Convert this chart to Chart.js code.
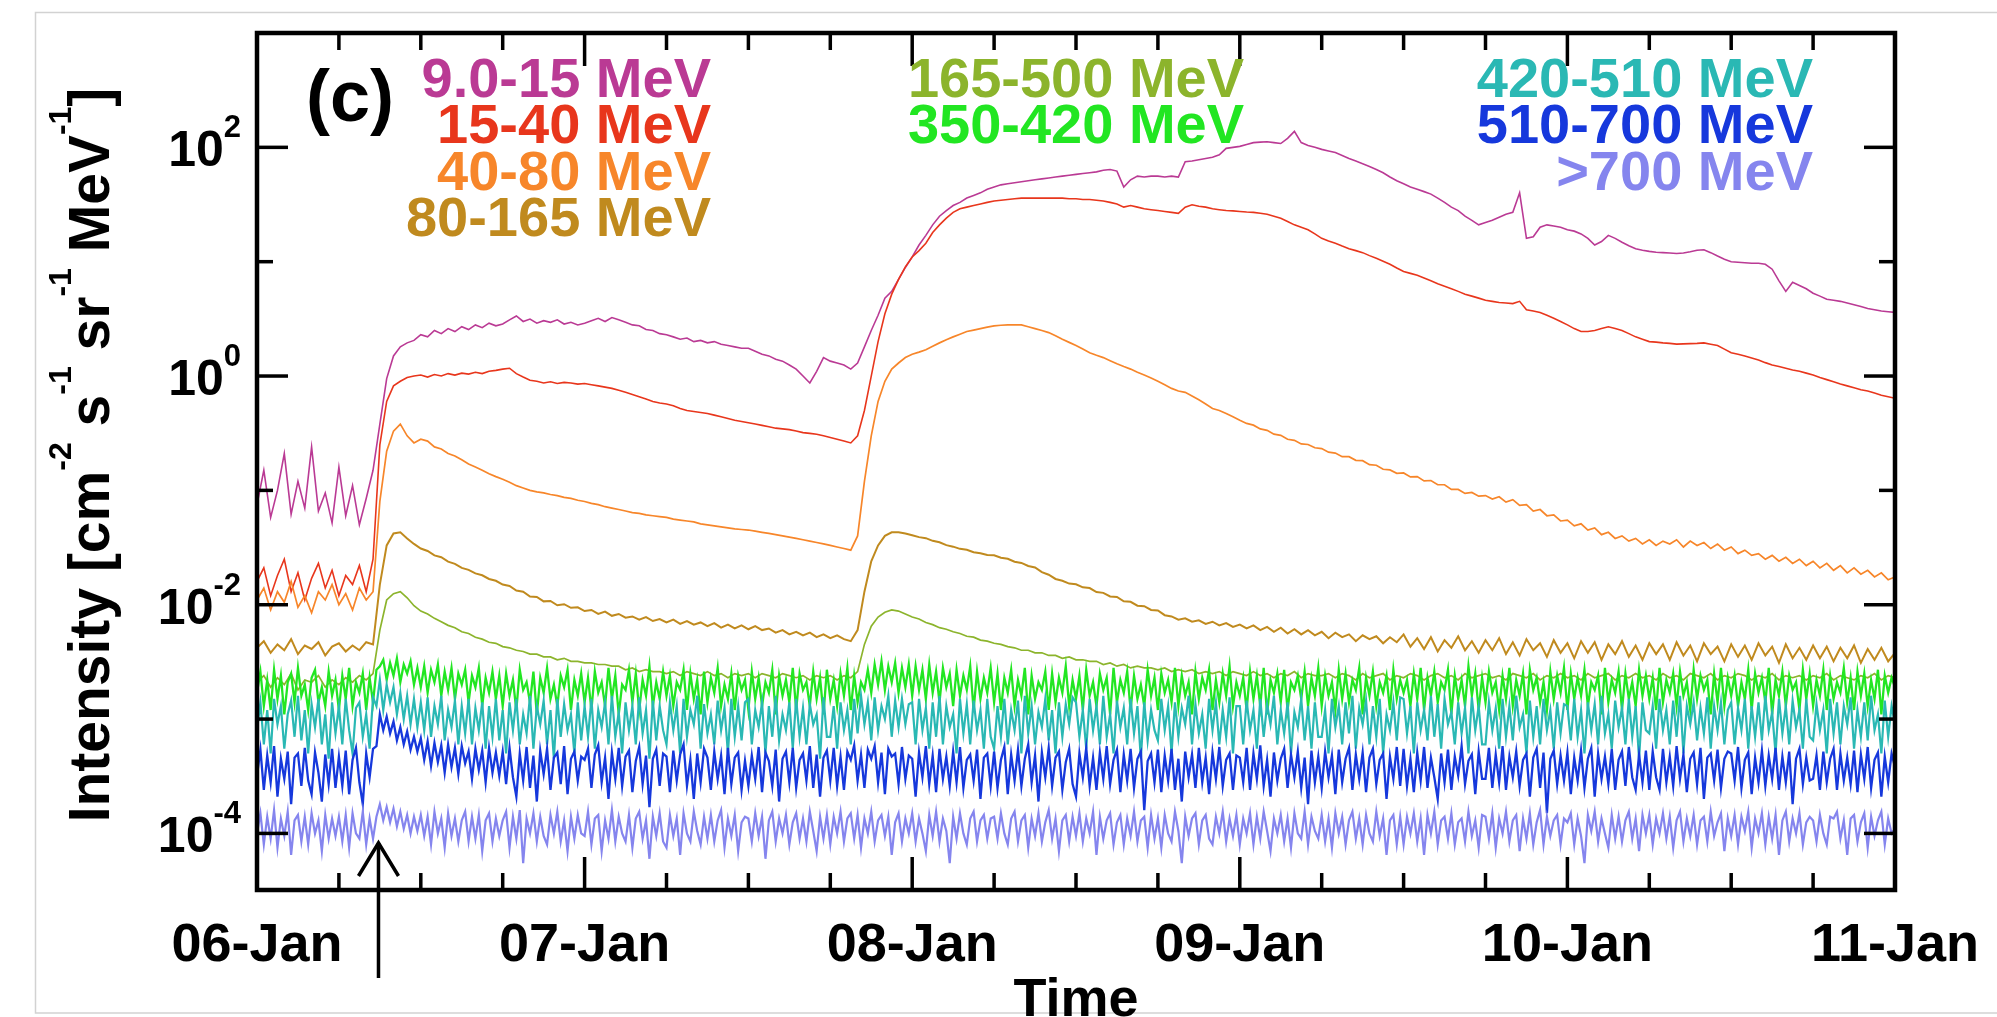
<!DOCTYPE html>
<html>
<head>
<meta charset="utf-8">
<script src="https://cdn.jsdelivr.net/npm/chart.js@4.4.0/dist/chart.umd.min.js"></script>
<style>
  html, body { margin: 0; padding: 0; background: #ffffff; }
  #wrap { width: 1997px; height: 1017px; position: relative; overflow: hidden; }
</style>
</head>
<body>
<div id="wrap"><canvas id="chart" width="1997" height="1017"></canvas></div>
<script>
// Proton intensities from 06-Jan 00:00 (hour 0) to 11-Jan 00:00 (hour 120).
// Low-energy channels are 30-minute samples, the four high-energy channels 15-minute samples.
const coarseStepHours = 0.5;
const fineStepHours = 0.25;
const dayLabels = ['06-Jan', '07-Jan', '08-Jan', '09-Jan', '10-Jan', '11-Jan'];
const decadeTicks = [-4, -3, -2, -1, 0, 1, 2];
const labeledDecades = [-4, -2, 0, 2];
const onsetHour = 8.9;

const flux9to15 = [
  0.075, 0.15, 0.058, 0.1, 0.21, 0.062, 0.12, 0.07, 0.24, 0.066, 0.095, 0.052,
  0.16, 0.06, 0.11, 0.05, 0.085, 0.15, 0.38, 0.95, 1.5, 1.8, 1.95, 2.05,
  2.3, 2.2, 2.5, 2.35, 2.6, 2.45, 2.7, 2.55, 2.8, 2.65, 2.9, 2.75,
  2.85, 3.1, 3.35, 3.0, 3.15, 2.9, 3.05, 2.95, 3.1, 2.85, 2.95, 2.8,
  2.9, 3.05, 3.2, 3.0, 3.25, 3.1, 2.95, 2.8, 2.75, 2.55, 2.5, 2.35,
  2.3, 2.2, 2.1, 2.15, 2.0, 2.05, 1.95, 2.0, 1.9, 1.85, 1.8, 1.75,
  1.75, 1.65, 1.55, 1.5, 1.4, 1.35, 1.25, 1.15, 1.0, 0.87, 1.1, 1.45,
  1.35, 1.3, 1.25, 1.15, 1.3, 1.8, 2.5, 3.4, 4.8, 5.5, 7.0, 8.9,
  11, 14, 17, 21, 25, 28, 31, 33, 36, 38, 40, 43,
  45, 47, 48, 49, 50, 51, 52, 53, 54, 55, 56, 57,
  58, 59, 60, 61, 63, 64, 62, 45, 52, 56, 55, 56,
  56, 55, 56, 55, 75, 76, 78, 80, 82, 86, 98, 100,
  102, 106, 110, 111, 112, 110, 108, 120, 138, 110, 104, 100,
  96, 93, 90, 85, 80, 76, 72, 68, 64, 60, 55, 51,
  48, 45, 43, 41, 39, 36, 33, 30, 28, 25, 23, 21,
  22, 23, 24.5, 26, 27, 40, 16, 16.5, 20, 21, 20.5, 20,
  19, 18.5, 17.5, 16, 14, 15, 17, 16, 14.8, 13.8, 13, 12.6,
  12.3, 12.1, 12, 11.9, 11.8, 11.9, 12.2, 12.6, 12.7, 12.0, 11.2, 10.5,
  10.0, 9.9, 9.8, 9.7, 9.7, 9.5, 8.6, 6.8, 5.5, 6.6, 6.2, 5.8,
  5.3, 5.0, 4.7, 4.6, 4.5, 4.35, 4.2, 4.05, 3.9, 3.8, 3.7, 3.65,
  3.6
];

const flux15to40 = [
  0.016, 0.021, 0.012, 0.018, 0.025, 0.013, 0.019, 0.011, 0.017, 0.023, 0.014, 0.02,
  0.012, 0.018, 0.015, 0.022, 0.013, 0.025, 0.25, 0.6, 0.82, 0.9, 0.97, 1.0,
  1.02, 0.98, 1.03, 1.0, 1.05, 1.02, 1.06, 1.04, 1.08, 1.05, 1.1, 1.12,
  1.15, 1.17, 1.05, 0.98, 0.92, 0.9, 0.87, 0.89, 0.86, 0.88, 0.87, 0.85,
  0.86, 0.84, 0.82, 0.8, 0.78, 0.75, 0.72, 0.69, 0.66, 0.63, 0.6, 0.58,
  0.57, 0.55, 0.52, 0.5, 0.49, 0.48, 0.47, 0.455, 0.44, 0.425, 0.41, 0.4,
  0.39, 0.38, 0.37, 0.36, 0.35, 0.345, 0.34, 0.33, 0.32, 0.315, 0.31, 0.3,
  0.29, 0.28, 0.27, 0.26, 0.3, 0.5, 1.0, 2.0, 3.5, 5.2, 7.0, 9.0,
  11, 12.5, 14.5, 18, 21, 24, 27, 29, 30, 31, 32, 33,
  34, 34.5, 35, 35.5, 36, 36, 36, 36, 36, 36, 36, 35.5,
  35.5, 35, 35, 34.5, 34, 33, 32, 30, 31, 30, 29, 28.5,
  28, 27.5, 27, 26.5, 30, 31.5, 30.5, 30, 29, 28.5, 28, 27.8,
  27.5, 27.2, 27, 26.5, 26, 25, 24, 22.5, 21, 20, 19, 17.5,
  16, 15.2, 14.5, 13.7, 13, 12.5, 12, 11.3, 10.7, 10.1, 9.5, 8.8,
  8.2, 7.9, 7.6, 7.2, 6.8, 6.4, 6.1, 5.8, 5.5, 5.2, 5.0, 4.8,
  4.6, 4.5, 4.4, 4.35, 4.3, 4.5, 3.8, 3.7, 3.6, 3.4, 3.2, 3.0,
  2.8, 2.6, 2.45, 2.45, 2.5, 2.6, 2.7, 2.6, 2.5, 2.35, 2.2, 2.1,
  2.0, 1.98, 1.95, 1.93, 1.9, 1.91, 1.92, 1.93, 1.95, 1.9, 1.85, 1.72,
  1.6, 1.55, 1.5, 1.44, 1.38, 1.31, 1.25, 1.21, 1.17, 1.13, 1.1, 1.06,
  1.02, 0.97, 0.93, 0.89, 0.85, 0.82, 0.79, 0.76, 0.74, 0.71, 0.68, 0.66,
  0.64
];

const flux40to80 = [
  0.011, 0.014, 0.009, 0.013, 0.0105, 0.016, 0.0095, 0.012, 0.0085, 0.013, 0.011, 0.015,
  0.01, 0.0125, 0.009, 0.014, 0.011, 0.013, 0.08, 0.22, 0.33, 0.38, 0.3, 0.26,
  0.28, 0.27, 0.24, 0.23, 0.21, 0.2, 0.185, 0.17, 0.16, 0.15, 0.14, 0.132,
  0.125, 0.118, 0.11, 0.105, 0.1, 0.097, 0.095, 0.092, 0.09, 0.087, 0.085, 0.082,
  0.08, 0.077, 0.075, 0.072, 0.07, 0.068, 0.066, 0.064, 0.063, 0.061, 0.06, 0.059,
  0.058, 0.056, 0.055, 0.054, 0.053, 0.051, 0.05, 0.049, 0.048, 0.047, 0.046, 0.0455,
  0.045, 0.044, 0.043, 0.042, 0.041, 0.04, 0.039, 0.038, 0.037, 0.036, 0.035, 0.034,
  0.033, 0.032, 0.031, 0.03, 0.04, 0.12, 0.3, 0.6, 0.9, 1.15, 1.3, 1.45,
  1.55, 1.62, 1.7, 1.82, 1.95, 2.08, 2.2, 2.32, 2.45, 2.52, 2.6, 2.68,
  2.75, 2.78, 2.8, 2.8, 2.8, 2.7, 2.6, 2.5, 2.4, 2.25, 2.1, 1.97,
  1.85, 1.72, 1.6, 1.52, 1.45, 1.36, 1.28, 1.21, 1.15, 1.08, 1.02, 0.96,
  0.9, 0.84, 0.78, 0.74, 0.72, 0.67, 0.62, 0.57, 0.52, 0.5, 0.47, 0.44,
  0.41, 0.385, 0.372, 0.345, 0.335, 0.31, 0.303, 0.28, 0.274, 0.255, 0.252, 0.236,
  0.232, 0.216, 0.212, 0.197, 0.197, 0.183, 0.182, 0.168, 0.166, 0.153, 0.151, 0.141,
  0.142, 0.131, 0.132, 0.121, 0.122, 0.112, 0.112, 0.102, 0.102, 0.094, 0.096, 0.089,
  0.09, 0.084, 0.088, 0.079, 0.083, 0.074, 0.075, 0.066, 0.068, 0.06, 0.061, 0.054,
  0.055, 0.049, 0.051, 0.045, 0.047, 0.041, 0.043, 0.038, 0.04, 0.036, 0.038, 0.034,
  0.037, 0.033, 0.036, 0.034, 0.037, 0.032, 0.036, 0.033, 0.035, 0.031, 0.034, 0.03,
  0.032, 0.028, 0.03, 0.027, 0.028, 0.025, 0.027, 0.024, 0.026, 0.023, 0.025, 0.022,
  0.024, 0.021, 0.023, 0.02, 0.022, 0.019, 0.021, 0.0185, 0.02, 0.0175, 0.019, 0.0165,
  0.0175
];

const flux80to165 = [
  0.0042, 0.0048, 0.0038, 0.0045, 0.004, 0.005, 0.0037, 0.0044, 0.0041, 0.0047, 0.0036, 0.0043,
  0.0046, 0.0039, 0.0044, 0.004, 0.0047, 0.0045, 0.015, 0.033, 0.042, 0.043, 0.038, 0.034,
  0.031, 0.0295, 0.027, 0.026, 0.0238, 0.0228, 0.021, 0.0202, 0.0188, 0.0181, 0.0168, 0.0162,
  0.015, 0.0146, 0.0133, 0.013, 0.0118, 0.0117, 0.0107, 0.0108, 0.0099, 0.0101, 0.0094, 0.0095,
  0.0088, 0.009, 0.0083, 0.0087, 0.008, 0.0083, 0.0077, 0.0079, 0.0074, 0.0078, 0.0072, 0.0075,
  0.007, 0.0074, 0.0068, 0.0072, 0.0067, 0.007, 0.0065, 0.0069, 0.0063, 0.0067, 0.0062, 0.0066,
  0.0061, 0.0065, 0.006, 0.0062, 0.0057, 0.006, 0.0055, 0.0058, 0.0054, 0.0057, 0.0052, 0.0055,
  0.0051, 0.0054, 0.005, 0.0048, 0.006, 0.013, 0.024, 0.033, 0.04, 0.043, 0.043, 0.042,
  0.0405, 0.039, 0.0382, 0.0362, 0.0352, 0.0332, 0.0322, 0.0308, 0.0302, 0.0288, 0.0282, 0.0272,
  0.0271, 0.0258, 0.0252, 0.0238, 0.0232, 0.0218, 0.0212, 0.0193, 0.0183, 0.0168, 0.0162, 0.0153,
  0.0151, 0.0142, 0.014, 0.0129, 0.0127, 0.0118, 0.0117, 0.0107, 0.0106, 0.0098, 0.0097, 0.009,
  0.0089, 0.0081, 0.0079, 0.0074, 0.0076, 0.0071, 0.0073, 0.0068, 0.0071, 0.0066, 0.0069, 0.0064,
  0.0067, 0.0062, 0.0066, 0.006, 0.0064, 0.0058, 0.0063, 0.0056, 0.0061, 0.0055, 0.006, 0.0054,
  0.0058, 0.0051, 0.0057, 0.0052, 0.0055, 0.0048, 0.0054, 0.005, 0.0053, 0.0046, 0.0052, 0.0047,
  0.0055, 0.0043, 0.0051, 0.0041, 0.0052, 0.0039, 0.0049, 0.0042, 0.0053, 0.004, 0.0048, 0.0038,
  0.0049, 0.004, 0.0051, 0.0037, 0.0047, 0.0036, 0.005, 0.004, 0.0046, 0.0035, 0.0049, 0.0038,
  0.0046, 0.0034, 0.0048, 0.0038, 0.0047, 0.0033, 0.0045, 0.0037, 0.0048, 0.0035, 0.0044, 0.0033,
  0.0046, 0.0037, 0.0045, 0.0033, 0.0047, 0.0036, 0.0044, 0.0032, 0.0046, 0.0037, 0.0043, 0.0032,
  0.0045, 0.0035, 0.0044, 0.0033, 0.0046, 0.0036, 0.0043, 0.0031, 0.0045, 0.0034, 0.0042, 0.0033,
  0.0044, 0.0034, 0.0043, 0.0032, 0.0042, 0.0034, 0.0044, 0.0031, 0.0041, 0.0033, 0.0042, 0.0032,
  0.0038
];

const flux165to500 = [
  0.0021, 0.0024, 0.0019, 0.0023, 0.002, 0.0025, 0.0018, 0.0022, 0.0021, 0.0024, 0.0019, 0.0022,
  0.002, 0.0023, 0.0021, 0.0024, 0.0022, 0.0025, 0.006, 0.011, 0.0125, 0.013, 0.0115, 0.0098,
  0.0088, 0.0083, 0.0076, 0.0071, 0.0066, 0.0063, 0.0058, 0.0056, 0.0052, 0.005, 0.0047, 0.0046,
  0.0043, 0.0042, 0.004, 0.0039, 0.0037, 0.0037, 0.0035, 0.0035, 0.0033, 0.0034, 0.0032, 0.0032,
  0.0031, 0.0031, 0.003, 0.003, 0.0029, 0.0029, 0.0027, 0.0028, 0.0026, 0.0027, 0.0026, 0.0026,
  0.0025, 0.0026, 0.0024, 0.0026, 0.0025, 0.0024, 0.0026, 0.0024, 0.0025, 0.0023, 0.0025, 0.0024,
  0.0025, 0.0023, 0.0025, 0.0024, 0.0023, 0.0025, 0.0024, 0.0023, 0.0024, 0.0022, 0.0024, 0.0023,
  0.0024, 0.0022, 0.0024, 0.0023, 0.0026, 0.0045, 0.0065, 0.0078, 0.0086, 0.009, 0.0088, 0.0083,
  0.0078, 0.0075, 0.007, 0.0067, 0.0063, 0.0061, 0.0058, 0.0056, 0.0053, 0.0052, 0.0049, 0.0048,
  0.0046, 0.0045, 0.0043, 0.0042, 0.004, 0.004, 0.0038, 0.0038, 0.0036, 0.0036, 0.0034, 0.0035,
  0.0033, 0.0033, 0.0032, 0.0032, 0.003, 0.0031, 0.0029, 0.003, 0.0028, 0.0029, 0.0028, 0.0028,
  0.0027, 0.0028, 0.0026, 0.0027, 0.0026, 0.0027, 0.0025, 0.0026, 0.0025, 0.0026, 0.0024, 0.0026,
  0.0025, 0.0024, 0.0026, 0.0024, 0.0025, 0.0023, 0.0025, 0.0024, 0.0026, 0.0023, 0.0025, 0.0024,
  0.0024, 0.0025, 0.0023, 0.0025, 0.0024, 0.0022, 0.0025, 0.0023, 0.0024, 0.0025, 0.0022, 0.0024,
  0.0023, 0.0025, 0.0024, 0.0022, 0.0024, 0.0025, 0.0023, 0.0024, 0.0022, 0.0025, 0.0023, 0.0024,
  0.0025, 0.0023, 0.0024, 0.0022, 0.0025, 0.0024, 0.0023, 0.0025, 0.0022, 0.0024, 0.0023, 0.0025,
  0.0023, 0.0024, 0.0022, 0.0025, 0.0023, 0.0024, 0.0025, 0.0022, 0.0024, 0.0023, 0.0025, 0.0023,
  0.0024, 0.0022, 0.0025, 0.0023, 0.0024, 0.0022, 0.0025, 0.0024, 0.0023, 0.0025, 0.0022, 0.0024,
  0.0023, 0.0025, 0.0024, 0.0022, 0.0024, 0.0023, 0.0025, 0.0022, 0.0024, 0.0023, 0.0024, 0.0022,
  0.0024, 0.0023, 0.0025, 0.0022, 0.0024, 0.0023, 0.0022, 0.0024, 0.0023, 0.0025, 0.0022, 0.0024,
  0.0023
];

const flux350to420 = [
  17e-4,26e-4,13e-4,22e-4,12e-4,27e-4,15e-4,24e-4,11e-4,21e-4,25e-4,14e-4,28e-4,16e-4,20e-4,12e-4,23e-4,27e-4,14e-4,19e-4,13e-4,26e-4,16e-4,22e-4,
  12e-4,24e-4,15e-4,28e-4,13e-4,21e-4,17e-4,25e-4,12e-4,23e-4,14e-4,27e-4,29e-4,33e-4,22e-4,31e-4,24e-4,34e-4,21e-4,30e-4,25e-4,32e-4,20e-4,28e-4,
  19e-4,29e-4,17e-4,27e-4,21e-4,30e-4,16e-4,26e-4,18e-4,28e-4,15e-4,25e-4,20e-4,27e-4,14e-4,24e-4,19e-4,28e-4,13e-4,23e-4,17e-4,26e-4,15e-4,24e-4,
  13e-4,25e-4,16e-4,22e-4,12e-4,27e-4,18e-4,21e-4,14e-4,26e-4,11e-4,23e-4,17e-4,28e-4,15e-4,20e-4,13e-4,24e-4,19e-4,27e-4,12e-4,22e-4,16e-4,25e-4,
  14e-4,23e-4,12e-4,26e-4,17e-4,21e-4,13e-4,28e-4,15e-4,24e-4,11e-4,20e-4,18e-4,27e-4,14e-4,25e-4,12e-4,22e-4,16e-4,29e-4,13e-4,21e-4,15e-4,26e-4,
  16e-4,24e-4,13e-4,21e-4,18e-4,27e-4,12e-4,25e-4,15e-4,22e-4,11e-4,26e-4,14e-4,23e-4,17e-4,28e-4,13e-4,20e-4,15e-4,25e-4,12e-4,24e-4,18e-4,22e-4,
  12e-4,26e-4,15e-4,23e-4,13e-4,21e-4,17e-4,27e-4,11e-4,24e-4,16e-4,22e-4,14e-4,28e-4,12e-4,25e-4,18e-4,21e-4,13e-4,26e-4,15e-4,23e-4,11e-4,27e-4,
  15e-4,22e-4,13e-4,25e-4,16e-4,28e-4,12e-4,24e-4,14e-4,21e-4,18e-4,27e-4,17e-4,30e-4,20e-4,32e-4,18e-4,29e-4,21e-4,31e-4,17e-4,28e-4,19e-4,30e-4,
  16e-4,29e-4,18e-4,27e-4,15e-4,30e-4,17e-4,26e-4,14e-4,28e-4,19e-4,25e-4,13e-4,27e-4,16e-4,24e-4,18e-4,29e-4,12e-4,26e-4,15e-4,23e-4,17e-4,28e-4,
  14e-4,25e-4,12e-4,23e-4,17e-4,27e-4,13e-4,22e-4,16e-4,28e-4,11e-4,24e-4,15e-4,21e-4,18e-4,26e-4,12e-4,25e-4,14e-4,23e-4,17e-4,29e-4,13e-4,22e-4,
  15e-4,24e-4,12e-4,27e-4,16e-4,21e-4,13e-4,25e-4,18e-4,23e-4,11e-4,28e-4,14e-4,22e-4,17e-4,26e-4,12e-4,24e-4,15e-4,20e-4,13e-4,27e-4,16e-4,23e-4,
  12e-4,25e-4,17e-4,22e-4,14e-4,28e-4,13e-4,24e-4,16e-4,21e-4,11e-4,26e-4,15e-4,23e-4,18e-4,27e-4,12e-4,22e-4,14e-4,25e-4,16e-4,29e-4,13e-4,21e-4,
  16e-4,23e-4,12e-4,26e-4,15e-4,24e-4,13e-4,28e-4,11e-4,22e-4,17e-4,25e-4,14e-4,27e-4,12e-4,21e-4,18e-4,24e-4,15e-4,26e-4,13e-4,23e-4,16e-4,28e-4,
  13e-4,24e-4,16e-4,21e-4,12e-4,27e-4,15e-4,25e-4,14e-4,22e-4,18e-4,28e-4,11e-4,23e-4,16e-4,26e-4,13e-4,21e-4,17e-4,24e-4,12e-4,27e-4,15e-4,22e-4,
  17e-4,22e-4,13e-4,25e-4,15e-4,28e-4,12e-4,23e-4,16e-4,26e-4,14e-4,21e-4,18e-4,27e-4,11e-4,24e-4,15e-4,22e-4,13e-4,29e-4,16e-4,25e-4,12e-4,23e-4,
  14e-4,26e-4,17e-4,21e-4,12e-4,24e-4,15e-4,28e-4,13e-4,22e-4,16e-4,25e-4,11e-4,27e-4,18e-4,23e-4,14e-4,21e-4,12e-4,26e-4,15e-4,24e-4,17e-4,28e-4,
  12e-4,25e-4,15e-4,23e-4,16e-4,27e-4,13e-4,21e-4,18e-4,24e-4,11e-4,28e-4,14e-4,22e-4,17e-4,26e-4,12e-4,25e-4,15e-4,21e-4,13e-4,27e-4,16e-4,24e-4,
  15e-4,23e-4,12e-4,28e-4,14e-4,22e-4,17e-4,25e-4,13e-4,26e-4,16e-4,21e-4,12e-4,27e-4,15e-4,24e-4,18e-4,22e-4,11e-4,25e-4,14e-4,28e-4,13e-4,23e-4,
  16e-4,24e-4,13e-4,21e-4,15e-4,27e-4,12e-4,25e-4,17e-4,23e-4,14e-4,28e-4,11e-4,22e-4,16e-4,26e-4,13e-4,24e-4,18e-4,21e-4,12e-4,27e-4,15e-4,25e-4,
  13e-4,22e-4,16e-4,27e-4,12e-4,24e-4,15e-4,21e-4,17e-4,28e-4,14e-4,23e-4,12e-4,26e-4,16e-4,25e-4,13e-4,22e-4,15e-4,27e-4,11e-4,24e-4,17e-4,23e-4,
  19e-4
];

const flux420to510 = [
  8e-4,14e-4,6e-4,12e-4,5e-4,15e-4,9e-4,13e-4,5.5e-4,11e-4,14.5e-4,7e-4,16e-4,6.5e-4,12e-4,5e-4,13.5e-4,8.5e-4,15e-4,6e-4,11e-4,4.5e-4,14e-4,7.5e-4,
  13e-4,6e-4,15e-4,8e-4,5e-4,12.5e-4,14e-4,7e-4,11e-4,5.5e-4,15.5e-4,13e-4,22e-4,12e-4,20e-4,14e-4,19e-4,11e-4,17e-4,10e-4,16e-4,9e-4,15e-4,8.5e-4,
  14e-4,8e-4,15.5e-4,7e-4,13e-4,9e-4,16e-4,6.5e-4,12e-4,8.5e-4,14.5e-4,6e-4,13e-4,7.5e-4,15e-4,6e-4,12.5e-4,8e-4,14e-4,5.5e-4,13e-4,7e-4,15e-4,6.5e-4,
  12e-4,5e-4,14e-4,8e-4,15e-4,6e-4,11e-4,7.5e-4,16e-4,5.5e-4,13e-4,9e-4,14.5e-4,6e-4,12e-4,4.5e-4,15e-4,7e-4,13.5e-4,8e-4,11e-4,5e-4,14e-4,6.5e-4,
  13e-4,7e-4,15e-4,5.5e-4,12e-4,8.5e-4,14e-4,6e-4,16e-4,7e-4,11.5e-4,5e-4,14e-4,8e-4,13e-4,6e-4,15.5e-4,7.5e-4,12e-4,4.5e-4,14.5e-4,6.5e-4,13e-4,8e-4,
  6e-4,14e-4,8e-4,13e-4,5e-4,15e-4,7e-4,12e-4,9e-4,16e-4,5.5e-4,13.5e-4,7.5e-4,11e-4,6e-4,14.5e-4,8e-4,12.5e-4,5e-4,15e-4,7e-4,13e-4,6.5e-4,14e-4,
  15e-4,6e-4,12e-4,8.5e-4,14e-4,5e-4,13e-4,7e-4,16e-4,6.5e-4,11e-4,8e-4,14e-4,5.5e-4,15e-4,7e-4,12.5e-4,6e-4,13.5e-4,9e-4,11e-4,4.5e-4,15.5e-4,7e-4,
  7e-4,13e-4,5.5e-4,14e-4,8e-4,12e-4,6e-4,15e-4,7.5e-4,16e-4,9e-4,14e-4,6.5e-4,15.5e-4,8e-4,13e-4,10e-4,16e-4,7e-4,14.5e-4,8.5e-4,15e-4,9e-4,13.5e-4,
  14e-4,6e-4,15e-4,8e-4,12.5e-4,5.5e-4,14e-4,7e-4,16e-4,6e-4,13e-4,8.5e-4,11e-4,5e-4,15e-4,7.5e-4,13.5e-4,6e-4,14.5e-4,8e-4,12e-4,5.5e-4,15e-4,7e-4,
  5.5e-4,13e-4,7e-4,15e-4,6e-4,12e-4,8e-4,14.5e-4,5e-4,16e-4,7.5e-4,13e-4,6e-4,11.5e-4,8.5e-4,15e-4,6.5e-4,12e-4,5e-4,14e-4,7e-4,13.5e-4,9e-4,15.5e-4,
  14e-4,7e-4,12e-4,5.5e-4,15e-4,8e-4,13e-4,6e-4,16e-4,7e-4,11e-4,5e-4,14.5e-4,8.5e-4,12.5e-4,6e-4,15e-4,7.5e-4,13e-4,4.5e-4,14e-4,6.5e-4,12e-4,8e-4,
  6.5e-4,15e-4,8e-4,13e-4,5e-4,14e-4,7e-4,12.5e-4,9e-4,16e-4,6e-4,13.5e-4,7.5e-4,11e-4,5.5e-4,15e-4,8e-4,14e-4,6e-4,12e-4,7e-4,15.5e-4,5e-4,13e-4,
  13e-4,6e-4,14.5e-4,8e-4,12e-4,5.5e-4,15e-4,7e-4,13.5e-4,9e-4,16e-4,6e-4,12e-4,7.5e-4,14e-4,5e-4,11.5e-4,8.5e-4,15e-4,6.5e-4,13e-4,5.5e-4,14e-4,7e-4,
  7e-4,12e-4,5e-4,15e-4,8.5e-4,13e-4,6e-4,14e-4,7.5e-4,16e-4,5.5e-4,12.5e-4,9e-4,14.5e-4,6e-4,13e-4,7e-4,15e-4,5e-4,11e-4,8e-4,14e-4,6.5e-4,15.5e-4,
  15e-4,7.5e-4,13e-4,5e-4,14e-4,8e-4,12e-4,6.5e-4,16e-4,7e-4,13.5e-4,5.5e-4,15e-4,9e-4,11.5e-4,6e-4,14e-4,7.5e-4,12.5e-4,5e-4,15.5e-4,8e-4,13e-4,6e-4,
  6e-4,14e-4,8e-4,12.5e-4,5.5e-4,15e-4,7e-4,13e-4,6.5e-4,16e-4,8.5e-4,11e-4,5e-4,14.5e-4,7e-4,13e-4,6e-4,15e-4,8e-4,12e-4,5.5e-4,14e-4,7.5e-4,13.5e-4,
  13e-4,6.5e-4,15e-4,7e-4,12e-4,5e-4,14e-4,8e-4,13.5e-4,6e-4,16e-4,7.5e-4,11e-4,5.5e-4,14.5e-4,8.5e-4,12.5e-4,6e-4,15e-4,7e-4,13e-4,4.5e-4,14e-4,8e-4,
  7.5e-4,13e-4,5.5e-4,15e-4,8e-4,12e-4,6e-4,14.5e-4,7e-4,16e-4,5e-4,13e-4,9e-4,14e-4,6.5e-4,12.5e-4,7.5e-4,15.5e-4,5.5e-4,13e-4,8e-4,14e-4,6e-4,12e-4,
  14e-4,6e-4,12.5e-4,8e-4,15e-4,5.5e-4,13e-4,7e-4,14e-4,6.5e-4,16e-4,8e-4,11.5e-4,5e-4,15e-4,7.5e-4,13e-4,6e-4,14.5e-4,8.5e-4,12e-4,5.5e-4,15e-4,7e-4,
  6.5e-4,13.5e-4,8e-4,12e-4,5e-4,15e-4,7.5e-4,14e-4,6e-4,13e-4,9e-4,15.5e-4,5.5e-4,12e-4,7e-4,14e-4,6.5e-4,16e-4,8e-4,11e-4,5e-4,14.5e-4,7e-4,13e-4,
  9e-4
];

const flux510to700 = [
  3.2e-4,5.4e-4,2.4e-4,4.8e-4,2.8e-4,5.8e-4,2.1e-4,4.5e-4,3.0e-4,5.2e-4,1.8e-4,4.6e-4,5.0e-4,2.6e-4,5.6e-4,2.9e-4,2.2e-4,5.1e-4,3.4e-4,1.9e-4,4.9e-4,2.7e-4,5.5e-4,2.5e-4,
  4.7e-4,2.6e-4,5.3e-4,2.2e-4,4.4e-4,5.6e-4,2.8e-4,1.8e-4,5.0e-4,3.1e-4,5.5e-4,5.8e-4,11e-4,8e-4,10.5e-4,7.5e-4,9.5e-4,6.5e-4,8.5e-4,6e-4,7.8e-4,5.4e-4,7e-4,5.2e-4,
  6.8e-4,4.4e-4,6.4e-4,3.9e-4,6.2e-4,4.2e-4,5.9e-4,3.4e-4,6e-4,3.8e-4,5.6e-4,3.3e-4,5.8e-4,4.1e-4,5.2e-4,3e-4,5.5e-4,3.6e-4,5.3e-4,2.8e-4,5.6e-4,3.4e-4,5.1e-4,3.2e-4,
  5.2e-4,2.7e-4,5.6e-4,3.1e-4,2.1e-4,5e-4,2.9e-4,5.7e-4,2.5e-4,4.8e-4,1.9e-4,5.3e-4,3.3e-4,5.5e-4,2.4e-4,4.6e-4,5.1e-4,2.7e-4,5.8e-4,2.2e-4,4.5e-4,5.2e-4,2.9e-4,4.7e-4,
  4.4e-4,5.5e-4,2.5e-4,4.9e-4,5.9e-4,2.8e-4,4.6e-4,2e-4,5.1e-4,3e-4,5.6e-4,2.6e-4,4.7e-4,5.3e-4,2.3e-4,4.3e-4,5.7e-4,2.7e-4,4.8e-4,1.7e-4,4.5e-4,5.4e-4,2.6e-4,5e-4,
  4.7e-4,2.3e-4,5.3e-4,2.9e-4,4.9e-4,6e-4,2.6e-4,4.4e-4,2e-4,5e-4,2.8e-4,5.5e-4,4.6e-4,2.4e-4,5.2e-4,3e-4,4.8e-4,2.2e-4,5.6e-4,2.7e-4,4.6e-4,5.1e-4,2.4e-4,4.3e-4,
  2.6e-4,4.8e-4,3e-4,5.7e-4,2.3e-4,5.1e-4,4.3e-4,2.6e-4,5.4e-4,1.9e-4,4.5e-4,5.2e-4,2.8e-4,5.6e-4,2.5e-4,4.4e-4,5e-4,2.9e-4,5.8e-4,2.5e-4,4.9e-4,2.1e-4,4.6e-4,5.3e-4,
  2.9e-4,5.6e-4,2.6e-4,4.7e-4,2.4e-4,5.2e-4,4.4e-4,5.9e-4,2.9e-4,4.9e-4,2.5e-4,5.4e-4,4.5e-4,5.8e-4,2.8e-4,5.1e-4,2.2e-4,5.5e-4,4.7e-4,5e-4,2.7e-4,5.7e-4,3e-4,4.8e-4,
  4.5e-4,2.1e-4,5.1e-4,3.1e-4,5.8e-4,2.7e-4,4.8e-4,2.3e-4,5.5e-4,3e-4,4.7e-4,2.6e-4,5.2e-4,2.8e-4,5.7e-4,2.5e-4,4.4e-4,4.9e-4,2.9e-4,5.4e-4,2e-4,4.6e-4,5e-4,2.6e-4,
  5.2e-4,2.5e-4,4.4e-4,5.7e-4,2.2e-4,4.9e-4,2.9e-4,5.4e-4,2.6e-4,4.5e-4,6e-4,2.8e-4,4.8e-4,1.9e-4,5.1e-4,3.1e-4,5.6e-4,2.6e-4,4.6e-4,5.2e-4,2.4e-4,4.2e-4,5.5e-4,2.7e-4,
  2.1e-4,5e-4,3.1e-4,5.6e-4,2.6e-4,4.6e-4,2.4e-4,5.1e-4,3e-4,5.8e-4,2.7e-4,4.4e-4,5.4e-4,2.3e-4,4.9e-4,2.9e-4,5.5e-4,2.5e-4,4.5e-4,5.2e-4,1.6e-4,4.3e-4,5e-4,2.8e-4,
  5.4e-4,2.3e-4,4.8e-4,2.9e-4,5.5e-4,2.4e-4,4.5e-4,1.9e-4,5.2e-4,3.1e-4,4.9e-4,2.5e-4,5.6e-4,2.8e-4,4.6e-4,2.2e-4,5.1e-4,3e-4,5.7e-4,2.6e-4,4.4e-4,5e-4,2.4e-4,4.8e-4,
  4.6e-4,2.8e-4,5.6e-4,2.4e-4,5e-4,3e-4,5.9e-4,2.6e-4,4.4e-4,2.1e-4,5.1e-4,2.9e-4,4.5e-4,5.5e-4,2.5e-4,4.9e-4,3.1e-4,5.2e-4,2.5e-4,4.6e-4,1.8e-4,5.3e-4,2.8e-4,4.7e-4,
  2.5e-4,5.2e-4,3.1e-4,4.8e-4,2.2e-4,5.4e-4,2.8e-4,4.5e-4,5.6e-4,2.4e-4,4.9e-4,3e-4,5.1e-4,2.3e-4,4.6e-4,5.5e-4,2.7e-4,4.4e-4,5e-4,2e-4,4.7e-4,3e-4,5.7e-4,2.6e-4,
  5.5e-4,2.6e-4,4.5e-4,2.3e-4,5.1e-4,2.9e-4,5.7e-4,2.5e-4,4.6e-4,3.1e-4,2e-4,5e-4,2.8e-4,5.4e-4,2.4e-4,4.7e-4,3.2e-4,5.8e-4,2.7e-4,4.3e-4,4.9e-4,2.2e-4,5.2e-4,3e-4,
  3e-4,5.6e-4,2.5e-4,4.9e-4,2.8e-4,5.8e-4,2.4e-4,4.7e-4,3.1e-4,5.2e-4,2.6e-4,4.4e-4,5e-4,2.1e-4,4.6e-4,5.5e-4,2.5e-4,5.1e-4,1.5e-4,4.5e-4,5.3e-4,2.7e-4,4.8e-4,2.9e-4,
  5.1e-4,2.2e-4,4.6e-4,2.9e-4,5.3e-4,2.5e-4,4.5e-4,5.6e-4,2.1e-4,5e-4,3e-4,4.7e-4,2.7e-4,5.5e-4,2.4e-4,4.4e-4,5.2e-4,2.6e-4,5.7e-4,3.1e-4,2.4e-4,4.9e-4,2.8e-4,5.3e-4,
  2.4e-4,5.2e-4,3.1e-4,2.4e-4,5.5e-4,2.8e-4,4.7e-4,2.6e-4,5.8e-4,3e-4,4.9e-4,2.3e-4,4.5e-4,5.1e-4,2.7e-4,5.6e-4,2e-4,4.6e-4,5e-4,2.9e-4,5.4e-4,2.5e-4,4.5e-4,5.2e-4,
  5e-4,2.9e-4,5.7e-4,2.5e-4,4.4e-4,5.1e-4,2.2e-4,4.6e-4,2.8e-4,5.3e-4,2.6e-4,4.8e-4,3e-4,5.6e-4,2.4e-4,4.7e-4,2.8e-4,5.2e-4,1.8e-4,4.5e-4,5.5e-4,2.7e-4,4.6e-4,2.9e-4,
  3e-4,4.8e-4,2.4e-4,5.2e-4,2.8e-4,4.5e-4,5.5e-4,2.4e-4,5e-4,2.9e-4,4.6e-4,2.7e-4,5.3e-4,2.3e-4,4.9e-4,3e-4,5.7e-4,2.5e-4,4.4e-4,5.1e-4,2.1e-4,4.7e-4,2.8e-4,5e-4,
  3.8e-4
];

const flux700up = [
  10e-5,15e-5,8e-5,14e-5,9e-5,16e-5,7.5e-5,13.5e-5,9.5e-5,15.5e-5,6.5e-5,13e-5,14.5e-5,8.5e-5,14e-5,8e-5,15e-5,10e-5,13e-5,7e-5,14.5e-5,9e-5,13.5e-5,9.5e-5,
  14e-5,8.5e-5,14.5e-5,7.5e-5,15e-5,10e-5,9e-5,15.5e-5,8e-5,13.5e-5,9e-5,14e-5,18e-5,13e-5,17e-5,12.5e-5,16.5e-5,11.5e-5,15.5e-5,11e-5,14.5e-5,10e-5,14e-5,10.5e-5,
  14.5e-5,9.5e-5,14e-5,8e-5,15.5e-5,10e-5,13.5e-5,7.5e-5,15e-5,9.5e-5,13.5e-5,8.5e-5,13e-5,15.5e-5,8.5e-5,14e-5,9e-5,14.5e-5,7e-5,13e-5,15e-5,8.5e-5,13.5e-5,9.5e-5,
  13e-5,15.5e-5,7.5e-5,14e-5,9e-5,16e-5,5.5e-5,13.5e-5,10e-5,15e-5,8.5e-5,14e-5,9.5e-5,8e-5,14.5e-5,10e-5,15.5e-5,8.5e-5,13e-5,7e-5,14e-5,9e-5,14.5e-5,10e-5,
  9.5e-5,15.5e-5,8e-5,13.5e-5,14.5e-5,7e-5,13e-5,9e-5,16e-5,8.5e-5,14e-5,10e-5,8.5e-5,14.5e-5,7.5e-5,13.5e-5,15.5e-5,9e-5,13e-5,6e-5,14e-5,9.5e-5,15e-5,8.5e-5,
  7.5e-5,14.5e-5,9.5e-5,13.5e-5,6.5e-5,15e-5,10e-5,8.5e-5,15.5e-5,10.5e-5,8e-5,14e-5,9e-5,14.5e-5,8.5e-5,13e-5,16e-5,7.5e-5,13.5e-5,9.5e-5,14.5e-5,7e-5,12.5e-5,14e-5,
  13.5e-5,8.5e-5,15e-5,9.5e-5,14e-5,6e-5,13e-5,15.5e-5,8.5e-5,13.5e-5,10e-5,14.5e-5,8e-5,12.5e-5,15e-5,9e-5,13.5e-5,8.5e-5,15.5e-5,10.5e-5,7e-5,14e-5,9e-5,14.5e-5,
  8e-5,14e-5,10e-5,15.5e-5,8.5e-5,13.5e-5,15e-5,9e-5,14.5e-5,7.5e-5,13.5e-5,10e-5,15.5e-5,8.5e-5,13e-5,14.5e-5,9.5e-5,14e-5,6.5e-5,12.5e-5,15e-5,8.5e-5,13.5e-5,10e-5,
  15e-5,8.5e-5,13.5e-5,10e-5,7e-5,14.5e-5,9.5e-5,15.5e-5,8.5e-5,13.5e-5,10.5e-5,5.5e-5,14e-5,9e-5,15e-5,10e-5,8e-5,13.5e-5,15.5e-5,8.5e-5,13e-5,14.5e-5,9e-5,13.5e-5,
  14e-5,9e-5,15e-5,10e-5,8e-5,13.5e-5,15.5e-5,8.5e-5,13e-5,14.5e-5,7.5e-5,13.5e-5,9.5e-5,15e-5,8.5e-5,12.5e-5,16e-5,9e-5,13.5e-5,7e-5,13e-5,14.5e-5,8.5e-5,14e-5,
  9.5e-5,15e-5,8.5e-5,13.5e-5,10e-5,15.5e-5,6.5e-5,14e-5,9e-5,13e-5,15e-5,8e-5,12.5e-5,14.5e-5,8e-5,13.5e-5,9.5e-5,15.5e-5,8.5e-5,13e-5,14e-5,7.5e-5,14.5e-5,9e-5,
  13.5e-5,7.5e-5,14.5e-5,10e-5,8.5e-5,15.5e-5,10.5e-5,5.5e-5,14e-5,9.5e-5,13.5e-5,15e-5,8e-5,13e-5,14.5e-5,9e-5,8e-5,14e-5,10e-5,15.5e-5,8.5e-5,13.5e-5,9.5e-5,14.5e-5,
  8e-5,13.5e-5,10e-5,15e-5,8e-5,14e-5,9e-5,15.5e-5,10.5e-5,7e-5,13.5e-5,10e-5,14.5e-5,8.5e-5,13.5e-5,7.5e-5,15e-5,10e-5,9e-5,15.5e-5,8e-5,14e-5,10.5e-5,9e-5,
  14.5e-5,8.5e-5,13.5e-5,7.5e-5,15e-5,10e-5,14e-5,8e-5,13e-5,15.5e-5,9e-5,13.5e-5,8e-5,14.5e-5,10e-5,8.5e-5,15.5e-5,9.5e-5,13.5e-5,6.5e-5,13e-5,14.5e-5,8e-5,14e-5,
  8e-5,14e-5,10e-5,15e-5,8.5e-5,13.5e-5,6.5e-5,14.5e-5,10e-5,15.5e-5,8e-5,13e-5,14e-5,9e-5,15e-5,8e-5,12.5e-5,13.5e-5,8.5e-5,15.5e-5,9.5e-5,13e-5,7.5e-5,14.5e-5,
  14e-5,9e-5,15e-5,7.5e-5,13.5e-5,10e-5,15.5e-5,8.5e-5,13e-5,14.5e-5,7e-5,13.5e-5,9e-5,15e-5,8e-5,12.5e-5,16e-5,8e-5,14e-5,9.5e-5,13e-5,14.5e-5,8e-5,13.5e-5,
  12.5e-5,15e-5,8e-5,13.5e-5,9.5e-5,5.5e-5,14.5e-5,10.5e-5,15.5e-5,8.5e-5,13.5e-5,10e-5,7.5e-5,14.5e-5,9e-5,14e-5,8.5e-5,13e-5,15.5e-5,9e-5,13.5e-5,7e-5,14.5e-5,10e-5,
  14.5e-5,8e-5,13.5e-5,10e-5,15e-5,9e-5,14e-5,7.5e-5,13e-5,15.5e-5,8.5e-5,13.5e-5,9.5e-5,14.5e-5,8e-5,13e-5,14e-5,8.5e-5,15.5e-5,9.5e-5,12.5e-5,15e-5,7e-5,13.5e-5,
  9.5e-5,14.5e-5,8e-5,14e-5,10.5e-5,15.5e-5,7.5e-5,13.5e-5,10e-5,15e-5,8e-5,14e-5,9e-5,14.5e-5,6.5e-5,13e-5,15.5e-5,8.5e-5,13.5e-5,10e-5,15e-5,8e-5,12.5e-5,14e-5,
  13e-5,8.5e-5,14.5e-5,10e-5,8e-5,14e-5,13.5e-5,15.5e-5,9e-5,13e-5,6.5e-5,13.5e-5,14.5e-5,8.5e-5,12.5e-5,15e-5,7.5e-5,14e-5,9.5e-5,13e-5,15.5e-5,8e-5,13.5e-5,10e-5,
  11e-5
];

const channelLabels = ['9.0-15 MeV', '15-40 MeV', '40-80 MeV', '80-165 MeV', '165-500 MeV',
                       '350-420 MeV', '420-510 MeV', '510-700 MeV', '>700 MeV'];
const channelColors = ['#BA3A94', '#E8361C', '#F7862A', '#C08A1E', '#8CB42C',
                       '#22E622', '#2AB8B4', '#1638DC', '#8585EE'];
const channelValues = [flux9to15, flux15to40, flux40to80, flux80to165, flux165to500,
                       flux350to420, flux420to510, flux510to700, flux700up];
const channelSteps = [coarseStepHours, coarseStepHours, coarseStepHours, coarseStepHours, coarseStepHours,
                      fineStepHours, fineStepHours, fineStepHours, fineStepHours];
const channelWidths = [1.6, 1.6, 1.7, 2.0, 1.7, 2.3, 2.2, 2.3, 2.2];

const FONT = '"Liberation Sans", Arial, Helvetica, sans-serif';

function drawRich(ctx, parts, x, y, align, mainFont, supFont, raise) {
  const widths = parts.map(p => {
    ctx.font = p.sup ? supFont : mainFont;
    return ctx.measureText(p.t).width;
  });
  const total = widths.reduce((a, b) => a + b, 0);
  let cx = align === 'right' ? x - total : (align === 'center' ? x - total / 2 : x);
  ctx.textAlign = 'left';
  ctx.textBaseline = 'alphabetic';
  parts.forEach((p, i) => {
    ctx.font = p.sup ? supFont : mainFont;
    ctx.fillText(p.t, cx, p.sup ? y - raise : y);
    cx += widths[i];
  });
}

const panelDecor = {
  id: 'panelDecor',
  beforeDraw(chart) {
    const ctx = chart.ctx;
    ctx.save();
    ctx.fillStyle = '#ffffff';
    ctx.fillRect(0, 0, chart.width, chart.height);
    ctx.strokeStyle = '#d2d2d2';
    ctx.lineWidth = 1.5;
    ctx.strokeRect(35.5, 12.5, 2100, 1000.5);
    ctx.restore();
  },
  afterDatasetsDraw(chart) {
    const ctx = chart.ctx;
    const a = chart.chartArea;
    const xs = chart.scales.x;
    const ys = chart.scales.y;
    ctx.save();
    ctx.strokeStyle = '#000';
    ctx.fillStyle = '#000';
    ctx.lineCap = 'butt';

    const seg = (x1, y1, x2, y2) => { ctx.beginPath(); ctx.moveTo(x1, y1); ctx.lineTo(x2, y2); ctx.stroke(); };

    // time ticks every 6 h, longer at each day boundary, on bottom and top edges
    ctx.lineWidth = 3.5;
    for (let h = 0; h <= 120; h += 6) {
      const px = xs.getPixelForValue(h);
      const len = (h % 24 === 0) ? 33 : 17;
      seg(px, a.bottom, px, a.bottom - len);
      seg(px, a.top, px, a.top + len);
    }
    // decade ticks on left and right edges
    decadeTicks.forEach(e => {
      const py = ys.getPixelForValue(Math.pow(10, e));
      const len = labeledDecades.includes(e) ? 31 : 16;
      seg(a.left, py, a.left + len, py);
      seg(a.right, py, a.right - len, py);
    });

    // frame
    ctx.lineWidth = 4.5;
    ctx.lineJoin = 'miter';
    ctx.strokeRect(a.left, a.top, a.right - a.left, a.bottom - a.top);

    // y tick labels 10^n
    labeledDecades.forEach(e => {
      const py = ys.getPixelForValue(Math.pow(10, e));
      drawRich(ctx, [{ t: '10' }, { t: String(e), sup: true }], 241, py + 19,
        'right', 'bold 50px ' + FONT, 'bold 31px ' + FONT, 29);
    });

    // day labels
    ctx.font = 'bold 54px ' + FONT;
    ctx.textAlign = 'center';
    ctx.textBaseline = 'alphabetic';
    dayLabels.forEach((lab, i) => {
      ctx.fillText(lab, xs.getPixelForValue(i * 24), 961);
    });

    // x title
    ctx.fillText('Time', (a.left + a.right) / 2, 1016);

    // y title (rotated)
    ctx.save();
    ctx.translate(109, 455);
    ctx.rotate(-Math.PI / 2);
    drawRich(ctx, [
      { t: 'Intensity [cm' }, { t: '-2', sup: true }, { t: ' s' }, { t: '-1', sup: true },
      { t: ' sr' }, { t: '-1', sup: true }, { t: ' MeV' }, { t: '-1', sup: true }, { t: ']' }
    ], 0, 0, 'center', 'bold 57px ' + FONT, 'bold 32px ' + FONT, 38);
    ctx.restore();

    // panel tag
    ctx.font = 'bold 72px ' + FONT;
    ctx.textAlign = 'center';
    ctx.fillText('(c)', 350, 121);

    // channel names in three columns
    const rowBase = [97, 143, 190, 236];
    const columns = [
      { idx: [0, 1, 2, 3], x: 711, align: 'right' },
      { idx: [4, 5], x: 1076, align: 'center' },
      { idx: [6, 7, 8], x: 1813, align: 'right' }
    ];
    ctx.font = 'bold 56px ' + FONT;
    columns.forEach(col => {
      ctx.textAlign = col.align;
      col.idx.forEach((ci, r) => {
        ctx.fillStyle = channelColors[ci];
        ctx.fillText(channelLabels[ci], col.x, rowBase[r]);
      });
    });

    // onset arrow below the time axis
    const ax = xs.getPixelForValue(onsetHour);
    ctx.strokeStyle = '#000';
    ctx.lineWidth = 3.5;
    ctx.lineJoin = 'miter';
    seg(ax, 978, ax, 843);
    ctx.beginPath();
    ctx.moveTo(ax - 20, 876);
    ctx.lineTo(ax, 843);
    ctx.lineTo(ax + 20, 876);
    ctx.stroke();

    ctx.restore();
  }
};

const datasets = channelValues.map((vals, i) => ({
  label: channelLabels[i],
  data: vals.map((v, k) => ({ x: k * channelSteps[i], y: v })),
  borderColor: channelColors[i],
  backgroundColor: channelColors[i],
  borderWidth: channelWidths[i],
  pointRadius: 0,
  tension: 0,
  fill: false,
  order: channelValues.length - i
}));

new Chart(document.getElementById('chart').getContext('2d'), {
  type: 'line',
  data: { datasets },
  options: {
    responsive: false,
    animation: false,
    devicePixelRatio: 1,
    layout: { padding: { left: 257, right: 102, top: 33, bottom: 127 } },
    plugins: { legend: { display: false }, tooltip: { enabled: false } },
    scales: {
      x: { type: 'linear', min: 0, max: 120, display: false },
      y: { type: 'logarithmic', min: 3.2e-5, max: 1000, display: false }
    }
  },
  plugins: [panelDecor]
});
</script>
</body>
</html>
